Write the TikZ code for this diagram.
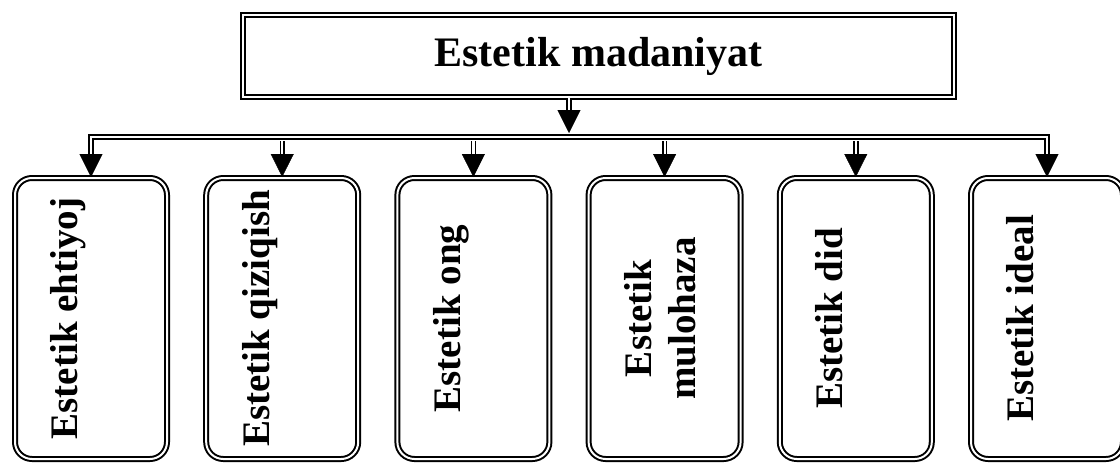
\documentclass[tikz,border=0pt]{standalone}
\usepackage{fontspec}
\setmainfont{Liberation Serif}
\usepackage{graphicx}
\usetikzlibrary{arrows.meta}
\newcommand{\vtext}[2]{\rotatebox{90}{\begin{tabular}{@{}c@{}}#1\\\mbox{}#2\end{tabular}}}

\begin{document}
\begin{tikzpicture}[x=1pt,y=-1pt,
  dbl/.style={draw,line width=1.6pt,double=white,double distance=2.2pt},
  tip/.style={-{Triangle[length=23pt,width=23pt]},line width=0.4pt},
  topbox/.style={draw,line width=2pt,double=white,double distance=2pt,minimum width=711pt,minimum height=82pt,font=\bfseries\fontsize{42}{48}\selectfont},
  sub/.style={draw,line width=2pt,double=white,double distance=2pt,rounded corners=17pt,minimum width=152pt,minimum height=281pt,inner sep=0pt,font=\bfseries\fontsize{39}{44}\selectfont}]
  \useasboundingbox (0,0) rectangle (1120,463);
  \node[topbox] (title) at (598.5,56) {Estetik madaniyat};
  \node[sub] (b1) at (91,318.5) {\vtext{Estetik ehtiyoj}{}};
  \node[sub] (b2) at (282.2,318.5) {\vtext{Estetik qiziqish}{}};
  \node[sub] (b3) at (473.4,318.5) {\vtext{Estetik ong}{}};
  \node[sub] (b4) at (664.6,318.5) {\vtext{Estetik}{mulohaza}};
  \node[sub] (b5) at (855.8,318.5) {\vtext{Estetik did}{}};
  \node[sub] (b6) at (1047,318.5) {\vtext{Estetik ideal}{}};
  \coordinate (bus) at (569,137);
  \coordinate (busb) at (569,141);
  % title to bus
  \draw[dbl] (title.south -| bus) -- ([yshift=27pt]bus);
  \draw[tip] ([yshift=27pt]bus) -- ([yshift=4pt]bus);
  % bus to boxes
  \draw[dbl] ([yshift=23pt]b1.north) |- (bus) -| ([yshift=23pt]b6.north);
  \foreach \i in {2,...,5}
    \draw[dbl] (busb -| b\i.north) -- ([yshift=23pt]b\i.north);
  \foreach \i in {1,...,6}
    \draw[tip] ([yshift=23pt]b\i.north) -- (b\i.north);
\end{tikzpicture}
\end{document}
